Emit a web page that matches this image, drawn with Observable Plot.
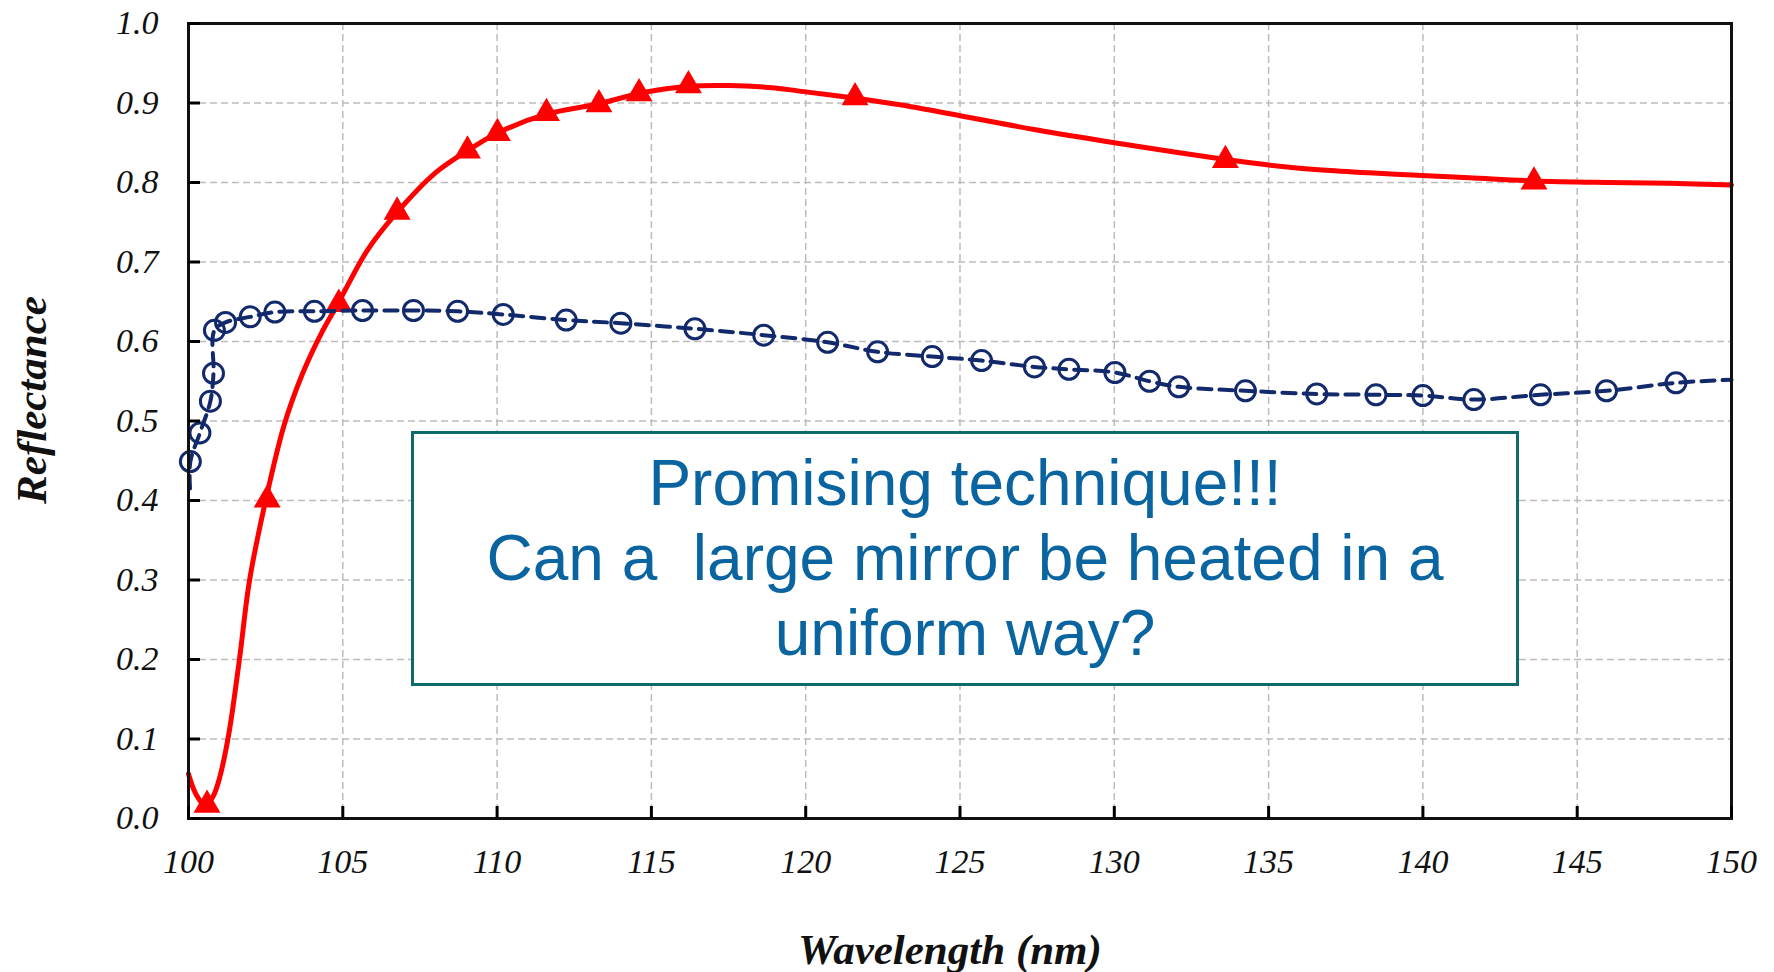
<!DOCTYPE html>
<html>
<head>
<meta charset="utf-8">
<script src="https://cdn.jsdelivr.net/npm/d3@7"></script>
<script src="https://cdn.jsdelivr.net/npm/@observablehq/plot@0.6"></script>
<style>
  html, body { margin: 0; padding: 0; background: #fff; }
  #wrap { position: relative; width: 1774px; height: 972px; }
  #note {
    position: absolute;
    left: 411px; top: 431px;
    width: 1102px; height: 249px;
    border: 3px solid #0e6b6b;
    background: #fff;
    box-sizing: content-box;
    font-family: "Liberation Sans", Arial, sans-serif;
    font-size: 64px;
    line-height: 75px;
    color: #0a64a0;
    text-align: center;
  }
  #note div:first-child { margin-top: 12px; }
</style>
</head>
<body>
<div id="wrap"></div>
<script>
// Axis ticks
const xTicks = [100, 105, 110, 115, 120, 125, 130, 135, 140, 145, 150];
const yTicks = [0, 0.1, 0.2, 0.3, 0.4, 0.5, 0.6, 0.7, 0.8, 0.9, 1.0];

// Red curve: smooth reflectance trace and its triangle markers
const redLineWl = [100.0, 100.25, 100.55, 100.8, 101.0, 101.3, 101.65, 101.98, 102.5, 103.1, 103.7, 104.3, 104.85, 105.8, 106.75, 108.0, 109.04, 110.0, 111.6, 113.3, 114.6, 116.2, 117.5, 119.0, 120.0, 121.6, 123.0, 125.0, 127.5, 130.0, 132.0, 133.6, 135.0, 137.0, 139.3, 141.5, 143.6, 146.0, 148.0, 150.0];
const redLineR  = [0.056, 0.030, 0.016, 0.028, 0.050, 0.105, 0.200, 0.300, 0.400, 0.495, 0.560, 0.610, 0.648, 0.715, 0.762, 0.812, 0.840, 0.862, 0.886, 0.899, 0.912, 0.921, 0.922, 0.919, 0.914, 0.906, 0.898, 0.884, 0.866, 0.850, 0.838, 0.829, 0.822, 0.815, 0.810, 0.806, 0.802, 0.800, 0.799, 0.797];
const redMarkWl = [100.6, 102.55, 104.87, 106.76, 109.04, 110.01, 111.6, 113.3, 114.6, 116.2, 121.6, 133.6, 143.6];
const redMarkR  = [0.017, 0.401, 0.647, 0.763, 0.840, 0.862, 0.887, 0.898, 0.912, 0.922, 0.907, 0.828, 0.801];

// Blue curve: dashed trace and its open-circle markers
const blueLineWl = [100.05, 100.06, 100.37, 100.71, 100.81, 100.84, 101.2, 102.0, 102.8, 104.08, 105.64, 107.29, 108.72, 110.2, 112.24, 114.01, 116.41, 118.64, 120.71, 122.33, 124.1, 125.7, 127.41, 128.53, 130.02, 131.14, 132.09, 134.25, 136.56, 138.48, 140.0, 141.65, 143.81, 145.95, 148.2, 150.0];
const blueLineR  = [0.415, 0.449, 0.485, 0.525, 0.560, 0.614, 0.624, 0.631, 0.637, 0.638, 0.639, 0.639, 0.638, 0.634, 0.627, 0.623, 0.616, 0.608, 0.599, 0.587, 0.581, 0.576, 0.568, 0.565, 0.561, 0.550, 0.543, 0.538, 0.534, 0.533, 0.532, 0.527, 0.533, 0.538, 0.548, 0.552];
const blueMarkWl = [100.06, 100.37, 100.71, 100.81, 100.84, 101.2, 102.0, 102.8, 104.08, 105.64, 107.29, 108.72, 110.2, 112.24, 114.01, 116.41, 118.64, 120.71, 122.33, 124.1, 125.7, 127.41, 128.53, 130.02, 131.14, 132.09, 134.25, 136.56, 138.48, 140.0, 141.65, 143.81, 145.95, 148.2];
const blueMarkR  = [0.449, 0.485, 0.525, 0.560, 0.614, 0.624, 0.631, 0.637, 0.638, 0.639, 0.639, 0.638, 0.634, 0.627, 0.623, 0.616, 0.608, 0.599, 0.587, 0.581, 0.576, 0.568, 0.565, 0.561, 0.550, 0.543, 0.538, 0.534, 0.533, 0.532, 0.527, 0.533, 0.538, 0.548];

const xTitle = "Wavelength (nm)";
const yTitle = "Reflectance";
const noteLines = ["Promising technique!!!", "Can a\u00a0 large mirror be heated in a", "uniform way?"];

const zip = (xs, ys) => xs.map((x, i) => ({wl: x, r: ys[i]}));
const redLine = zip(redLineWl, redLineR);
const redMarks = zip(redMarkWl, redMarkR);
const blueLine = zip(blueLineWl, blueLineR);
const blueMarks = zip(blueMarkWl, blueMarkR);

const serif = "'Liberation Serif', 'Times New Roman', serif";
const RED = "#ff0000";
const NAVY = "#12296b";
const gridStyle = {stroke: "#bcbcbc", strokeOpacity: 1, strokeWidth: 1.5, strokeDasharray: "7,4"};

const chart = Plot.plot({
  width: 1774,
  height: 972,
  marginLeft: 188,
  marginRight: 43,
  marginTop: 23,
  marginBottom: 154,
  x: {domain: [100, 150]},
  y: {domain: [0, 1]},
  marks: [
    Plot.gridX(xTicks, gridStyle),
    Plot.gridY(yTicks, gridStyle),
    Plot.line(redLine, {x: "wl", y: "r", stroke: RED, strokeWidth: 5, curve: "catmull-rom"}),
    Plot.dot(redMarks, {x: "wl", y: "r", symbol: "triangle", r: 10, fill: RED}),
    Plot.line(blueLine, {x: "wl", y: "r", stroke: NAVY, strokeWidth: 4, strokeDasharray: "13,8", curve: "catmull-rom"}),
    Plot.dot(blueMarks, {x: "wl", y: "r", r: 10, stroke: NAVY, strokeWidth: 3, fill: "none"}),
    Plot.frame({stroke: "#111", strokeWidth: 3}),
    Plot.axisY(yTicks, {
      tickSize: -12, tickPadding: 42, strokeWidth: 3,
      tickFormat: d3.format(".1f"),
      fontSize: 34, fontFamily: serif, fontStyle: "italic", fill: "#111",
      label: null
    }),
    Plot.axisX(xTicks, {
      tickSize: -12, tickPadding: 42, strokeWidth: 3,
      tickFormat: d3.format("d"),
      fontSize: 34, fontFamily: serif, fontStyle: "italic", fill: "#111",
      label: null
    }),
    Plot.text([yTitle], {
      frameAnchor: "left", dx: -156, dy: -21, rotate: -90,
      textAnchor: "middle", lineAnchor: "middle",
      fontSize: 43, fontFamily: serif, fontStyle: "italic", fontWeight: "bold", fill: "#111"
    }),
    Plot.text([xTitle], {
      frameAnchor: "bottom", dx: -10, dy: 132,
      textAnchor: "middle", lineAnchor: "middle",
      fontSize: 43, fontFamily: serif, fontStyle: "italic", fontWeight: "bold", fill: "#111"
    })
  ]
});

const wrap = document.getElementById("wrap");
wrap.appendChild(chart);

const note = document.createElement("div");
note.id = "note";
for (const line of noteLines) {
  const d = document.createElement("div");
  d.textContent = line;
  note.appendChild(d);
}
wrap.appendChild(note);
</script>
</body>
</html>
